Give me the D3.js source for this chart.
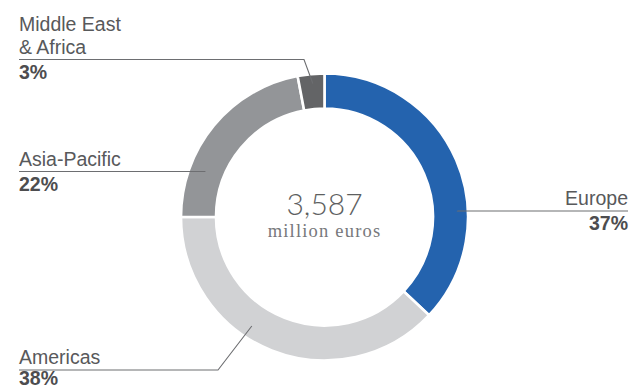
<!DOCTYPE html>
<html>
<head>
<meta charset="utf-8">
<script src="https://cdn.jsdelivr.net/npm/d3@7"></script>
<style>
  html, body { margin: 0; padding: 0; background: #fff; }
  svg { display: block; }
</style>
</head>
<body>
<svg id="chart" width="630" height="390"></svg>
<script>
// Revenue split by region (percent of total)
const regions = ["Europe", "Americas", "Asia-Pacific", "Middle East\n& Africa"];
const shares = [37, 38, 22, 3];
const colors = ["#2463ae", "#d1d2d4", "#939598", "#636466"];
const totalValue = 3587;
const totalUnit = "million euros";

// Label placement: anchor angle on the ring (degrees, clockwise from top),
// elbow / end of the leader line and text side.
const labelLayout = [
  { angle: 87.4, anchorR: 133, elbow: null, endX: 628, lineY: 211, side: "right" },
  { angle: 213.7, anchorR: 131, elbow: 218, endX: 19, lineY: 370, side: "left" },
  { angle: 291, anchorR: 128, elbow: null, endX: 19, lineY: 171.5, side: "left" },
  { angle: 355, anchorR: 134, elbow: 304, endX: 19, lineY: 59.5, side: "left" }
];

const width = 630, height = 390;
const cx = 324.5, cy = 217;
const outerR = 143.5, innerR = 108.5;

const svg = d3.select("#chart");
const g = svg.append("g").attr("transform", `translate(${cx},${cy})`);

const pie = d3.pie().sort(null).value(d => d)(shares);
const arc = d3.arc().innerRadius(innerR).outerRadius(outerR);

g.selectAll("path.slice")
  .data(pie)
  .join("path")
  .attr("class", "slice")
  .attr("d", arc)
  .attr("fill", (d, i) => colors[i])
  .attr("stroke", "#fff")
  .attr("stroke-width", 2.6);

// Leader lines and labels
const lineColor = "#6d6e71";
labelLayout.forEach((L, i) => {
  const [ax, ay] = d3.pointRadial(L.angle * Math.PI / 180, L.anchorR);
  const pts = [[ax + cx, ay + cy]];
  if (L.elbow !== null) pts.push([L.elbow, L.lineY]);
  else pts.push([ax + cx, L.lineY]);
  pts.push([L.endX, L.lineY]);
  svg.append("path")
    .attr("d", d3.line()(pts))
    .attr("fill", "none")
    .attr("stroke", lineColor)
    .attr("stroke-width", 1.1);

  const anchor = L.side === "right" ? "end" : "start";
  const nameLines = regions[i].split("\n");
  nameLines.forEach((t, k) => {
    svg.append("text")
      .attr("x", L.endX)
      .attr("y", L.lineY - 6 - (nameLines.length - 1 - k) * 23)
      .attr("text-anchor", anchor)
      .attr("font-family", "Liberation Sans, Arial, sans-serif")
      .attr("font-size", 19.5)
      .attr("fill", "#58595b")
      .text(t);
  });
  svg.append("text")
    .attr("x", L.endX)
    .attr("y", Math.min(L.lineY + 19, 385))
    .attr("text-anchor", anchor)
    .attr("font-family", "Liberation Sans, Arial, sans-serif")
    .attr("font-weight", "bold")
    .attr("font-size", 19.5)
    .attr("fill", "#4d4d4f")
    .text(shares[i] + "%");
});

// Centre total
g.append("text")
  .attr("x", 0)
  .attr("y", -2)
  .attr("text-anchor", "middle")
  .attr("font-family", "Lato, 'Open Sans', sans-serif")
  .attr("font-weight", 300)
  .attr("font-size", 30)
  .attr("fill", "#5e5f61")
  .text(d3.format(",")(totalValue));

g.append("text")
  .attr("x", 0)
  .attr("y", 19.5)
  .attr("text-anchor", "middle")
  .attr("font-family", "'Liberation Serif', serif")
  .attr("font-size", 18.5)
  .attr("letter-spacing", 1.2)
  .attr("fill", "#77787b")
  .text(totalUnit);
</script>
</body>
</html>
